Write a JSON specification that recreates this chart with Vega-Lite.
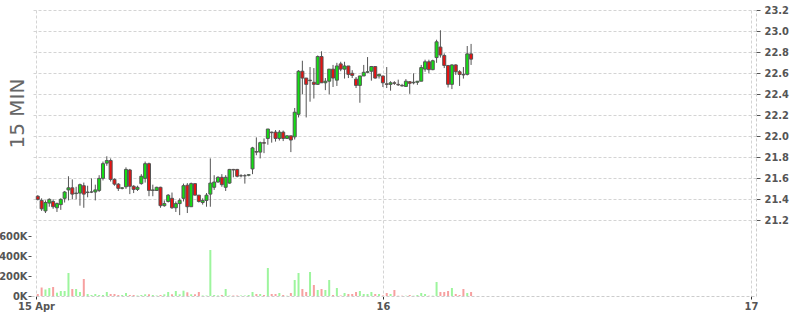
{
  "$schema": "https://vega.github.io/schema/vega-lite/v6.json",
  "width": 725,
  "height": 286,
  "autosize": {"type": "none"},
  "padding": {"left": 31, "top": 10, "right": 44, "bottom": 19},
  "background": "white",
  "config": {
    "view": {"stroke": null},
    "axis": {
      "labelFont": "DejaVu Sans Condensed, DejaVu Sans",
      "labelFontWeight": "bold",
      "labelFontSize": 11,
      "labelColor": "#555555",
      "tickColor": "#555555",
      "gridColor": "#d4d4d4",
      "gridDash": [3, 2],
      "gridWidth": 1,
      "labelOverlap": false,
      "labelBound": false
    }
  },
  "data": {"values": [
    {"t":"2024-04-15T01:30","o":21.43,"h":21.44,"l":21.39,"c":21.40,"v":20},
    {"t":"2024-04-15T01:45","o":21.39,"h":21.41,"l":21.29,"c":21.31,"v":85},
    {"t":"2024-04-15T02:00","o":21.29,"h":21.39,"l":21.27,"c":21.37,"v":65},
    {"t":"2024-04-15T02:15","o":21.365,"h":21.41,"l":21.33,"c":21.40,"v":80},
    {"t":"2024-04-15T02:30","o":21.38,"h":21.40,"l":21.31,"c":21.33,"v":90},
    {"t":"2024-04-15T02:45","o":21.32,"h":21.37,"l":21.28,"c":21.36,"v":33},
    {"t":"2024-04-15T03:00","o":21.35,"h":21.41,"l":21.30,"c":21.40,"v":50},
    {"t":"2024-04-15T03:15","o":21.41,"h":21.48,"l":21.37,"c":21.47,"v":50},
    {"t":"2024-04-15T03:30","o":21.49,"h":21.62,"l":21.39,"c":21.51,"v":230},
    {"t":"2024-04-15T03:45","o":21.51,"h":21.59,"l":21.40,"c":21.45,"v":70},
    {"t":"2024-04-15T04:00","o":21.455,"h":21.52,"l":21.40,"c":21.46,"v":70},
    {"t":"2024-04-15T04:15","o":21.46,"h":21.55,"l":21.34,"c":21.54,"v":40},
    {"t":"2024-04-15T04:30","o":21.53,"h":21.56,"l":21.32,"c":21.45,"v":170},
    {"t":"2024-04-15T04:45","o":21.465,"h":21.53,"l":21.42,"c":21.47,"v":20},
    {"t":"2024-04-15T05:00","o":21.47,"h":21.60,"l":21.46,"c":21.47,"v":10},
    {"t":"2024-04-15T05:15","o":21.47,"h":21.54,"l":21.39,"c":21.49,"v":20},
    {"t":"2024-04-15T05:30","o":21.485,"h":21.63,"l":21.47,"c":21.60,"v":10},
    {"t":"2024-04-15T05:45","o":21.60,"h":21.76,"l":21.58,"c":21.74,"v":10},
    {"t":"2024-04-15T06:00","o":21.745,"h":21.81,"l":21.72,"c":21.77,"v":40},
    {"t":"2024-04-15T06:15","o":21.77,"h":21.79,"l":21.57,"c":21.59,"v":20},
    {"t":"2024-04-15T06:30","o":21.59,"h":21.60,"l":21.53,"c":21.545,"v":20},
    {"t":"2024-04-15T06:45","o":21.545,"h":21.555,"l":21.48,"c":21.505,"v":10},
    {"t":"2024-04-15T07:00","o":21.505,"h":21.515,"l":21.495,"c":21.51,"v":10},
    {"t":"2024-04-15T07:15","o":21.52,"h":21.705,"l":21.50,"c":21.685,"v":30},
    {"t":"2024-04-15T07:30","o":21.68,"h":21.69,"l":21.45,"c":21.525,"v":10},
    {"t":"2024-04-15T07:45","o":21.525,"h":21.535,"l":21.46,"c":21.495,"v":10},
    {"t":"2024-04-15T08:00","o":21.495,"h":21.53,"l":21.48,"c":21.515,"v":5},
    {"t":"2024-04-15T08:15","o":21.55,"h":21.64,"l":21.54,"c":21.62,"v":10},
    {"t":"2024-04-15T08:30","o":21.60,"h":21.76,"l":21.56,"c":21.74,"v":17},
    {"t":"2024-04-15T08:45","o":21.74,"h":21.75,"l":21.43,"c":21.485,"v":17},
    {"t":"2024-04-15T09:00","o":21.485,"h":21.54,"l":21.43,"c":21.49,"v":10},
    {"t":"2024-04-15T09:15","o":21.485,"h":21.52,"l":21.48,"c":21.515,"v":5},
    {"t":"2024-04-15T09:30","o":21.515,"h":21.52,"l":21.32,"c":21.34,"v":10},
    {"t":"2024-04-15T09:45","o":21.34,"h":21.39,"l":21.33,"c":21.36,"v":17},
    {"t":"2024-04-15T10:00","o":21.38,"h":21.45,"l":21.37,"c":21.44,"v":40},
    {"t":"2024-04-15T10:15","o":21.41,"h":21.465,"l":21.31,"c":21.32,"v":17},
    {"t":"2024-04-15T10:30","o":21.32,"h":21.38,"l":21.28,"c":21.36,"v":50},
    {"t":"2024-04-15T10:45","o":21.36,"h":21.41,"l":21.25,"c":21.39,"v":17},
    {"t":"2024-04-15T11:00","o":21.41,"h":21.55,"l":21.38,"c":21.53,"v":53},
    {"t":"2024-04-15T11:15","o":21.535,"h":21.555,"l":21.27,"c":21.33,"v":37},
    {"t":"2024-04-15T11:30","o":21.33,"h":21.56,"l":21.33,"c":21.55,"v":17},
    {"t":"2024-04-15T11:45","o":21.55,"h":21.55,"l":21.44,"c":21.44,"v":17},
    {"t":"2024-04-15T12:00","o":21.44,"h":21.44,"l":21.37,"c":21.38,"v":40},
    {"t":"2024-04-15T12:15","o":21.37,"h":21.41,"l":21.35,"c":21.39,"v":5},
    {"t":"2024-04-15T12:30","o":21.39,"h":21.46,"l":21.33,"c":21.44,"v":5},
    {"t":"2024-04-15T12:45","o":21.45,"h":21.79,"l":21.33,"c":21.555,"v":460},
    {"t":"2024-04-15T13:00","o":21.515,"h":21.63,"l":21.49,"c":21.565,"v":10},
    {"t":"2024-04-15T13:15","o":21.565,"h":21.62,"l":21.56,"c":21.61,"v":5},
    {"t":"2024-04-15T13:30","o":21.61,"h":21.64,"l":21.52,"c":21.54,"v":10},
    {"t":"2024-04-15T13:45","o":21.515,"h":21.63,"l":21.48,"c":21.61,"v":70},
    {"t":"2024-04-15T14:00","o":21.555,"h":21.69,"l":21.55,"c":21.685,"v":5},
    {"t":"2024-04-15T14:15","o":21.685,"h":21.69,"l":21.61,"c":21.68,"v":5},
    {"t":"2024-04-15T14:30","o":21.685,"h":21.69,"l":21.61,"c":21.62,"v":5},
    {"t":"2024-04-15T14:45","o":21.625,"h":21.64,"l":21.61,"c":21.625,"v":5},
    {"t":"2024-04-15T15:00","o":21.625,"h":21.64,"l":21.55,"c":21.625,"v":5},
    {"t":"2024-04-15T15:15","o":21.63,"h":21.64,"l":21.62,"c":21.635,"v":10},
    {"t":"2024-04-15T15:30","o":21.69,"h":21.90,"l":21.64,"c":21.89,"v":40},
    {"t":"2024-04-15T15:45","o":21.855,"h":21.99,"l":21.82,"c":21.85,"v":20},
    {"t":"2024-04-15T16:00","o":21.85,"h":21.95,"l":21.79,"c":21.94,"v":20},
    {"t":"2024-04-15T16:15","o":21.94,"h":21.98,"l":21.84,"c":21.935,"v":10},
    {"t":"2024-04-15T16:30","o":21.98,"h":22.07,"l":21.92,"c":22.07,"v":280},
    {"t":"2024-04-15T16:45","o":22.04,"h":22.045,"l":21.94,"c":22.035,"v":20},
    {"t":"2024-04-15T17:00","o":22.04,"h":22.06,"l":21.95,"c":21.98,"v":20},
    {"t":"2024-04-15T17:15","o":21.98,"h":22.06,"l":21.96,"c":22.04,"v":30},
    {"t":"2024-04-15T17:30","o":22.04,"h":22.055,"l":21.955,"c":21.98,"v":10},
    {"t":"2024-04-15T17:45","o":21.98,"h":22.01,"l":21.975,"c":22.005,"v":3},
    {"t":"2024-04-15T18:00","o":22.005,"h":22.005,"l":21.85,"c":21.965,"v":30},
    {"t":"2024-04-15T18:15","o":21.995,"h":22.27,"l":21.97,"c":22.23,"v":160},
    {"t":"2024-04-15T18:30","o":22.21,"h":22.63,"l":22.18,"c":22.62,"v":230},
    {"t":"2024-04-15T18:45","o":22.62,"h":22.72,"l":22.40,"c":22.555,"v":70},
    {"t":"2024-04-15T19:00","o":22.555,"h":22.555,"l":22.18,"c":22.495,"v":40},
    {"t":"2024-04-15T19:15","o":22.53,"h":22.66,"l":22.33,"c":22.535,"v":240},
    {"t":"2024-04-15T19:30","o":22.515,"h":22.65,"l":22.36,"c":22.495,"v":110},
    {"t":"2024-04-15T19:45","o":22.495,"h":22.77,"l":22.49,"c":22.76,"v":60},
    {"t":"2024-04-15T20:00","o":22.76,"h":22.81,"l":22.51,"c":22.51,"v":70},
    {"t":"2024-04-15T20:15","o":22.51,"h":22.555,"l":22.44,"c":22.525,"v":60},
    {"t":"2024-04-15T20:30","o":22.525,"h":22.64,"l":22.40,"c":22.64,"v":160},
    {"t":"2024-04-15T20:45","o":22.64,"h":22.68,"l":22.47,"c":22.555,"v":10},
    {"t":"2024-04-15T21:00","o":22.535,"h":22.70,"l":22.48,"c":22.67,"v":80},
    {"t":"2024-04-15T21:15","o":22.69,"h":22.71,"l":22.62,"c":22.64,"v":5},
    {"t":"2024-04-15T21:30","o":22.64,"h":22.71,"l":22.55,"c":22.67,"v":30},
    {"t":"2024-04-15T21:45","o":22.67,"h":22.67,"l":22.555,"c":22.59,"v":20},
    {"t":"2024-04-15T22:00","o":22.60,"h":22.63,"l":22.555,"c":22.58,"v":20},
    {"t":"2024-04-15T22:15","o":22.545,"h":22.565,"l":22.46,"c":22.485,"v":40},
    {"t":"2024-04-15T22:30","o":22.485,"h":22.575,"l":22.32,"c":22.575,"v":50},
    {"t":"2024-04-15T22:45","o":22.575,"h":22.68,"l":22.575,"c":22.61,"v":20},
    {"t":"2024-04-15T23:00","o":22.61,"h":22.755,"l":22.60,"c":22.615,"v":20},
    {"t":"2024-04-15T23:15","o":22.62,"h":22.67,"l":22.53,"c":22.665,"v":40},
    {"t":"2024-04-15T23:30","o":22.665,"h":22.665,"l":22.55,"c":22.555,"v":20},
    {"t":"2024-04-15T23:45","o":22.575,"h":22.595,"l":22.55,"c":22.59,"v":20},
    {"t":"2024-04-16T00:00","o":22.575,"h":22.575,"l":22.47,"c":22.51,"v":5},
    {"t":"2024-04-16T00:15","o":22.50,"h":22.66,"l":22.46,"c":22.495,"v":30},
    {"t":"2024-04-16T00:30","o":22.495,"h":22.525,"l":22.435,"c":22.51,"v":20},
    {"t":"2024-04-16T00:45","o":22.51,"h":22.525,"l":22.49,"c":22.505,"v":60},
    {"t":"2024-04-16T01:00","o":22.495,"h":22.54,"l":22.48,"c":22.49,"v":3},
    {"t":"2024-04-16T01:15","o":22.485,"h":22.50,"l":22.475,"c":22.48,"v":3},
    {"t":"2024-04-16T01:30","o":22.475,"h":22.545,"l":22.475,"c":22.525,"v":3},
    {"t":"2024-04-16T01:45","o":22.52,"h":22.525,"l":22.405,"c":22.505,"v":10},
    {"t":"2024-04-16T02:00","o":22.51,"h":22.60,"l":22.495,"c":22.515,"v":3},
    {"t":"2024-04-16T02:15","o":22.515,"h":22.525,"l":22.49,"c":22.525,"v":10},
    {"t":"2024-04-16T02:30","o":22.525,"h":22.68,"l":22.525,"c":22.655,"v":30},
    {"t":"2024-04-16T02:45","o":22.64,"h":22.73,"l":22.615,"c":22.71,"v":20},
    {"t":"2024-04-16T03:00","o":22.71,"h":22.73,"l":22.60,"c":22.635,"v":3},
    {"t":"2024-04-16T03:15","o":22.635,"h":22.73,"l":22.63,"c":22.72,"v":3},
    {"t":"2024-04-16T03:30","o":22.75,"h":22.92,"l":22.70,"c":22.90,"v":140},
    {"t":"2024-04-16T03:45","o":22.85,"h":23.01,"l":22.75,"c":22.775,"v":40},
    {"t":"2024-04-16T04:00","o":22.77,"h":22.79,"l":22.65,"c":22.675,"v":40},
    {"t":"2024-04-16T04:15","o":22.675,"h":22.675,"l":22.465,"c":22.495,"v":50},
    {"t":"2024-04-16T04:30","o":22.495,"h":22.685,"l":22.45,"c":22.68,"v":80},
    {"t":"2024-04-16T04:45","o":22.68,"h":22.685,"l":22.585,"c":22.615,"v":20},
    {"t":"2024-04-16T05:00","o":22.615,"h":22.63,"l":22.48,"c":22.59,"v":10},
    {"t":"2024-04-16T05:15","o":22.59,"h":22.66,"l":22.55,"c":22.585,"v":70},
    {"t":"2024-04-16T05:30","o":22.59,"h":22.86,"l":22.58,"c":22.785,"v":30},
    {"t":"2024-04-16T05:45","o":22.785,"h":22.88,"l":22.68,"c":22.735,"v":40}
  ]},
  "encoding": {
    "x": {
      "field": "t",
      "type": "temporal",
      "scale": {"domain": [
        {"year": 2024, "month": 4, "date": 15, "hours": 1, "minutes": 23},
        {"year": 2024, "month": 4, "date": 17, "hours": 0, "minutes": 0}
      ]},
      "axis": {
        "orient": "bottom",
        "title": null,
        "values": [
          {"year": 2024, "month": 4, "date": 15, "hours": 1, "minutes": 23},
          {"year": 2024, "month": 4, "date": 16, "hours": 0, "minutes": 0},
          {"year": 2024, "month": 4, "date": 17, "hours": 0, "minutes": 0}
        ],
        "labelExpr": "datum.index == 0 ? '15 Apr' : timeFormat(datum.value, '%d')",
        "grid": true,
        "domain": true,
        "domainColor": "#cccccc",
        "domainDash": [3, 2],
        "tickSize": 3,
        "tickColor": "#333333",
        "labelPadding": 1,
        "labelFlush": false
      }
    }
  },
  "layer": [
    {
      "mark": {"type": "bar", "size": 2},
      "encoding": {
        "y": {
          "field": "v",
          "type": "quantitative",
          "scale": {"domain": [0, 2860], "nice": false, "zero": true},
          "axis": {
            "orient": "left",
            "values": [0, 200, 400, 600],
            "labelExpr": "datum.value + 'K'",
            "grid": false,
            "domain": false,
            "tickSize": 3,
            "labelPadding": 1,
            "title": "15 MIN",
            "titleFont": "DejaVu Sans",
            "titleFontSize": 20,
            "titleFontWeight": "normal",
            "titleColor": "#666666",
            "titleAngle": 270,
            "titleAlign": "center",
            "titleBaseline": "alphabetic",
            "titleX": -8,
            "titleY": 103
          }
        },
        "color": {
          "condition": {"test": "datum.c >= datum.o", "value": "#9df59d"},
          "value": "#f7a0a0"
        }
      }
    },
    {
      "layer": [
        {
          "mark": {"type": "rule", "color": "#555555", "strokeWidth": 1},
          "encoding": {
            "y": {
              "field": "l",
              "type": "quantitative",
              "scale": {"domain": [20.48, 23.203], "nice": false, "zero": false},
              "axis": {
                "orient": "right",
                "title": null,
                "values": [21.2, 21.4, 21.6, 21.8, 22.0, 22.2, 22.4, 22.6, 22.8, 23.0, 23.2],
                "format": ".1f",
                "grid": true,
                "domain": true,
                "domainColor": "#cccccc",
                "domainDash": [3, 2],
                "tickSize": 4,
                "labelPadding": 4
              }
            },
            "y2": {"field": "h"}
          }
        },
        {
          "mark": {"type": "bar", "size": 3, "stroke": "#555555", "strokeWidth": 1},
          "encoding": {
            "y": {
              "field": "o",
              "type": "quantitative",
              "scale": {"domain": [20.48, 23.203], "nice": false, "zero": false},
              "axis": {
                "orient": "right",
                "title": null,
                "values": [21.2, 21.4, 21.6, 21.8, 22.0, 22.2, 22.4, 22.6, 22.8, 23.0, 23.2],
                "format": ".1f",
                "grid": true,
                "domain": true,
                "domainColor": "#cccccc",
                "domainDash": [3, 2],
                "tickSize": 4,
                "labelPadding": 4
              }
            },
            "y2": {"field": "c"},
            "color": {
              "condition": {"test": "datum.c >= datum.o", "value": "#12e012"},
              "value": "#e81212"
            }
          }
        }
      ]
    }
  ],
  "resolve": {"scale": {"y": "independent"}, "axis": {"y": "independent"}}
}
